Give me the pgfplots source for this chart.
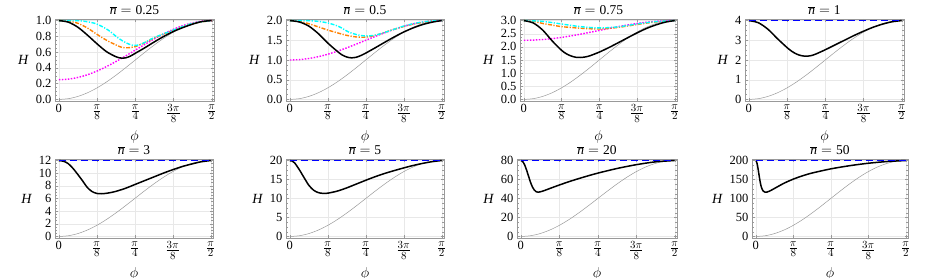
\documentclass[border=0pt]{standalone}
\usepackage{fontspec}
\setmainfont{Liberation Serif}
\usepackage{pgfplots}
\pgfplotsset{compat=1.18}
\definecolor{mmaorange}{rgb}{1,0.5,0}
\definecolor{mmacyan}{rgb}{0,1,1}
\definecolor{mmamag}{rgb}{1,0,1}
\definecolor{mmablue}{rgb}{0,0,1}
\definecolor{framegray}{gray}{0.6}
\pgfplotsset{
  panel/.style={
    scale only axis, width=158pt, height=82pt,
    xmin=-0.1, xmax=4.06,
    xtick={0,1,2,3,4},
    xticklabels={{\fontsize{12.5}{13}\selectfont 0},$\frac{\pi}{8}$,$\frac{\pi}{4}$,$\frac{3\pi}{8}$,$\frac{\pi}{2}$},
    axis line style={framegray},
    every tick/.style={framegray, line width=0.4pt},
    major tick length=3pt, minor tick length=1.8pt,
    tick align=inside,
    grid=major, major grid style={gray!18, line width=0.4pt},
    minor y tick num=3,
    xlabel={$\phi$}, ylabel={\textit{H}},
    ylabel style={rotate=-90, font=\fontsize{14}{16}\selectfont},
    xlabel style={font=\fontsize{14}{16}\selectfont, yshift=-1pt},
    yticklabel style={font=\fontsize{12.5}{13}\selectfont},
    xticklabel style={font=\fontsize{15}{16}\selectfont},
    title style={font=\fontsize{13.5}{15}\selectfont, yshift=-5.5pt},
    /pgf/number format/assume math mode=true,
  },
  zf/.style={yticklabel style={/pgf/number format/.cd, fixed, fixed zerofill, precision=1}},
  greyc/.style={gray!80, line width=0.5pt, smooth},
  blackc/.style={black, line width=1.5pt, smooth},
  bluec/.style={mmablue, line width=1.7pt, dash pattern=on 7.5pt off 3.5pt},
  orangec/.style={mmaorange, line width=1.4pt, smooth, dash pattern=on 4pt off 1.5pt on 1.2pt off 1.5pt},
  cyanc/.style={mmacyan, line width=1.4pt, smooth, dash pattern=on 4pt off 1.5pt on 1.2pt off 1.5pt},
  magc/.style={mmamag, line width=1.4pt, smooth, dash pattern=on 1.5pt off 1.5pt},
}
\begin{document}
\begin{tikzpicture}[x=1pt,y=1pt]
\useasboundingbox (0,0) rectangle (926,278);
% ---------- panel 1 ----------
\begin{axis}[panel, zf, at={(55pt,177pt)}, anchor=south west, width=159pt,
  ymin=-0.02, ymax=1.02, ytick={0,0.2,...,1.0},
  title={$\overline{\mbox{\itshape n}}=\mbox{0.25}$}]
\addplot[greyc] coordinates {(0,0)(0.25,0.0096)(0.5,0.0381)(0.75,0.0843)(1,0.1464)(1.25,0.2222)(1.5,0.3087)(1.75,0.4025)(2,0.5)(2.25,0.5975)(2.5,0.6913)(2.75,0.7778)(3,0.8536)(3.25,0.9157)(3.5,0.9619)(3.75,0.9904)(4,1)};
\addplot[magc] coordinates {(0,0.25)(0.25,0.257)(0.5,0.279)(0.75,0.313)(1,0.360)(1.25,0.417)(1.5,0.482)(1.75,0.552)(2,0.625)(2.25,0.698)(2.5,0.768)(2.75,0.833)(3,0.890)(3.25,0.937)(3.5,0.971)(3.75,0.993)(4,1)};
\addplot[orangec] coordinates {(0,1)(0.25,0.993)(0.5,0.965)(0.75,0.905)(1,0.825)(1.25,0.75)(1.5,0.69)(1.65,0.66)(1.8,0.655)(2,0.67)(2.25,0.72)(2.5,0.78)(3,0.877)(3.5,0.963)(4,1)};
\addplot[cyanc] coordinates {(0,1)(0.5,0.998)(0.75,0.985)(1,0.955)(1.29,0.88)(1.55,0.78)(1.75,0.72)(1.95,0.685)(2.15,0.70)(2.5,0.785)(3,0.88)(3.5,0.965)(4,1)};
\addplot[blackc] coordinates {(0,1)(0.25,0.98)(0.5,0.915)(0.75,0.815)(1,0.705)(1.25,0.605)(1.5,0.54)(1.625,0.525)(1.75,0.527)(1.875,0.55)(2,0.585)(2.25,0.655)(2.5,0.73)(2.75,0.80)(3,0.862)(3.25,0.912)(3.5,0.955)(3.75,0.988)(4,1)};
\end{axis}
% ---------- panel 2 ----------
\begin{axis}[panel, zf, at={(286pt,177pt)}, anchor=south west, width=158pt,
  ymin=-0.04, ymax=2.04, ytick={0,0.5,...,2.0},
  title={$\overline{\mbox{\itshape n}}=\mbox{0.5}$}]
\addplot[greyc] coordinates {(0,0)(0.25,0.0192)(0.5,0.0762)(0.75,0.1686)(1,0.2928)(1.25,0.4444)(1.5,0.6174)(1.75,0.805)(2,1.0)(2.25,1.195)(2.5,1.3826)(2.75,1.5556)(3,1.7072)(3.25,1.8314)(3.5,1.9238)(3.75,1.9808)(4,2)};
\addplot[magc] coordinates {(0,1)(0.25,1.0096)(0.5,1.038)(0.75,1.084)(1,1.146)(1.25,1.222)(1.5,1.309)(1.75,1.403)(2,1.5)(2.25,1.598)(2.5,1.691)(2.75,1.778)(3,1.854)(3.25,1.916)(3.5,1.962)(3.75,1.990)(4,2)};
\addplot[orangec] coordinates {(0,2)(0.25,1.98)(0.5,1.92)(0.75,1.84)(1,1.76)(1.25,1.69)(1.5,1.625)(1.75,1.585)(2,1.58)(2.25,1.625)(2.5,1.70)(2.75,1.78)(3,1.85)(3.25,1.91)(3.5,1.955)(3.75,1.99)(4,2)};
\addplot[cyanc] coordinates {(0,2)(0.5,1.997)(0.75,1.98)(1,1.94)(1.29,1.85)(1.55,1.71)(1.8,1.635)(2,1.61)(2.25,1.63)(2.5,1.70)(2.75,1.78)(3,1.86)(3.25,1.92)(3.5,1.965)(3.75,1.99)(4,2)};
\addplot[blackc] coordinates {(0,2)(0.25,1.965)(0.5,1.86)(0.75,1.67)(1,1.43)(1.25,1.22)(1.375,1.13)(1.5,1.075)(1.625,1.055)(1.75,1.07)(1.875,1.115)(2,1.175)(2.25,1.31)(2.5,1.45)(2.75,1.585)(3,1.71)(3.25,1.815)(3.5,1.90)(3.75,1.96)(4,2)};
\end{axis}
% ---------- panel 3 ----------
\begin{axis}[panel, zf, at={(520pt,177pt)}, anchor=south west, width=157pt,
  ymin=-0.06, ymax=3.06, ytick={0,0.5,...,3.0},
  title={$\overline{\mbox{\itshape n}}=\mbox{0.75}$}]
\addplot[greyc] coordinates {(0,0)(0.25,0.0288)(0.5,0.1143)(0.75,0.2529)(1,0.4392)(1.25,0.6666)(1.5,0.9261)(1.75,1.2075)(2,1.5)(2.25,1.7925)(2.5,2.0739)(2.75,2.3334)(3,2.5608)(3.25,2.7471)(3.5,2.8857)(3.75,2.9712)(4,3)};
\addplot[magc] coordinates {(0,2.25)(0.25,2.257)(0.5,2.279)(0.75,2.313)(1,2.360)(1.25,2.417)(1.5,2.482)(1.75,2.552)(2,2.625)(2.25,2.698)(2.5,2.768)(2.75,2.833)(3,2.890)(3.25,2.937)(3.5,2.971)(3.75,2.993)(4,3)};
\addplot[orangec] coordinates {(0,3)(0.25,2.975)(0.5,2.89)(0.75,2.83)(1,2.77)(1.5,2.71)(2,2.68)(2.5,2.74)(3,2.85)(3.5,2.95)(4,3)};
\addplot[cyanc] coordinates {(0,3)(0.5,2.97)(1,2.87)(1.5,2.77)(2,2.72)(2.5,2.76)(3,2.87)(3.5,2.96)(4,3)};
\addplot[blackc] coordinates {(0,3)(0.25,2.91)(0.5,2.64)(0.75,2.23)(1,1.87)(1.125,1.74)(1.25,1.655)(1.375,1.605)(1.5,1.595)(1.625,1.615)(1.75,1.66)(2,1.80)(2.25,1.97)(2.5,2.155)(2.75,2.345)(3,2.53)(3.25,2.70)(3.5,2.835)(3.75,2.94)(4,3)};
\end{axis}
% ---------- panel 4 ----------
\begin{axis}[panel, at={(745pt,177pt)}, anchor=south west, width=159pt,
  ymin=-0.08, ymax=4.08, ytick={0,1,...,4},
  title={$\overline{\mbox{\itshape n}}=\mbox{1}$}]
\addplot[greyc] coordinates {(0,0)(0.25,0.0384)(0.5,0.1524)(0.75,0.3372)(1,0.5856)(1.25,0.8888)(1.5,1.2348)(1.75,1.61)(2,2)(2.25,2.39)(2.5,2.7652)(2.75,3.1112)(3,3.4144)(3.25,3.6628)(3.5,3.8476)(3.75,3.9616)(4,4)};
\addplot[blackc] coordinates {(0,4)(0.25,3.89)(0.5,3.56)(0.75,3.08)(1,2.63)(1.125,2.44)(1.25,2.30)(1.375,2.22)(1.5,2.195)(1.625,2.22)(1.75,2.30)(2,2.52)(2.25,2.76)(2.5,3.0)(2.75,3.24)(3,3.46)(3.25,3.66)(3.5,3.82)(3.75,3.94)(4,4)};
\addplot[bluec] coordinates {(0,4)(4,4)};
\end{axis}
% ---------- panel 5 ----------
\begin{axis}[panel, at={(55pt,40pt)}, anchor=south west, width=158pt, height=79pt,
  ymin=-0.24, ymax=12.24, ytick={0,2,...,12},
  title={$\overline{\mbox{\itshape n}}=\mbox{3}$}]
\addplot[greyc] coordinates {(0,0)(0.25,0.115)(0.5,0.457)(0.75,1.012)(1,1.757)(1.25,2.666)(1.5,3.704)(1.75,4.83)(2,6)(2.25,7.17)(2.5,8.296)(2.75,9.334)(3,10.243)(3.25,10.988)(3.5,11.543)(3.75,11.885)(4,12)};
\addplot[blackc] coordinates {(0,12)(0.125,11.88)(0.25,11.5)(0.375,10.75)(0.5,9.8)(0.625,8.8)(0.75,7.75)(0.875,7.1)(1,6.8)(1.125,6.75)(1.25,6.82)(1.375,6.95)(1.5,7.12)(1.75,7.6)(2,8.2)(2.25,8.8)(2.5,9.4)(2.75,10.0)(3,10.55)(3.25,11.05)(3.5,11.45)(3.75,11.8)(4,12)};
\addplot[bluec] coordinates {(0,12)(4,12)};
\end{axis}
% ---------- panel 6 ----------
\begin{axis}[panel, at={(286pt,40pt)}, anchor=south west, width=158pt, height=79pt,
  ymin=-0.4, ymax=20.4, ytick={0,5,...,20},
  title={$\overline{\mbox{\itshape n}}=\mbox{5}$}]
\addplot[greyc] coordinates {(0,0)(0.25,0.192)(0.5,0.762)(0.75,1.686)(1,2.928)(1.25,4.444)(1.5,6.174)(1.75,8.05)(2,10)(2.25,11.95)(2.5,13.826)(2.75,15.556)(3,17.072)(3.25,18.314)(3.5,19.238)(3.75,19.808)(4,20)};
\addplot[blackc] coordinates {(0,20)(0.0625,19.85)(0.125,19.4)(0.25,17.6)(0.375,15.5)(0.5,13.5)(0.625,12.2)(0.75,11.55)(0.875,11.35)(1,11.4)(1.25,11.95)(1.5,12.8)(1.75,13.8)(2,14.8)(2.25,15.75)(2.5,16.6)(2.75,17.35)(3,18.05)(3.25,18.7)(3.5,19.25)(3.75,19.7)(4,20)};
\addplot[bluec] coordinates {(0,20)(4,20)};
\end{axis}
% ---------- panel 7 ----------
\begin{axis}[panel, at={(517pt,40pt)}, anchor=south west, width=160pt, height=79pt,
  ymin=-1.6, ymax=81.6, ytick={0,20,...,80},
  title={$\overline{\mbox{\itshape n}}=\mbox{20}$}]
\addplot[greyc] coordinates {(0,0)(0.25,0.768)(0.5,3.048)(0.75,6.744)(1,11.712)(1.25,17.776)(1.5,24.696)(1.75,32.2)(2,40)(2.25,47.8)(2.5,55.304)(2.75,62.224)(3,68.288)(3.25,73.256)(3.5,76.952)(3.75,79.232)(4,80)};
\addplot[blackc] coordinates {(0,80)(0.03,79.6)(0.06,78.3)(0.1,75.3)(0.15,69.8)(0.2,63.5)(0.25,57.3)(0.3,52.2)(0.35,48.9)(0.4,47.1)(0.45,46.65)(0.5,47.0)(0.6,48.2)(0.75,50.5)(1,54.2)(1.25,57.7)(1.5,60.9)(1.75,63.9)(2,66.7)(2.5,71.6)(3,75.6)(3.5,78.6)(4,80)};
\addplot[bluec] coordinates {(0,80)(4,80)};
\end{axis}
% ---------- panel 8 ----------
\begin{axis}[panel, at={(752pt,40pt)}, anchor=south west, width=156pt, height=79pt,
  ymin=-4, ymax=204, ytick={0,50,...,200},
  title={$\overline{\mbox{\itshape n}}=\mbox{50}$}]
\addplot[greyc] coordinates {(0,0)(0.25,1.92)(0.5,7.62)(0.75,16.86)(1,29.28)(1.25,44.44)(1.5,61.74)(1.75,80.5)(2,100)(2.25,119.5)(2.5,138.26)(2.75,155.56)(3,170.72)(3.25,183.14)(3.5,192.38)(3.75,198.08)(4,200)};
\addplot[blackc] coordinates {(0,200)(0.015,198.5)(0.03,194)(0.05,185)(0.075,170)(0.1,154)(0.125,140)(0.15,130)(0.175,123.5)(0.2,119.5)(0.25,116.5)(0.3,117)(0.37,119.5)(0.5,126.5)(0.75,140)(1,151)(1.25,159.8)(1.5,167)(2,178)(2.5,186.3)(3,192.8)(3.5,197.3)(4,200)};
\addplot[bluec] coordinates {(0,200)(4,200)};
\end{axis}
\end{tikzpicture}
\end{document}
